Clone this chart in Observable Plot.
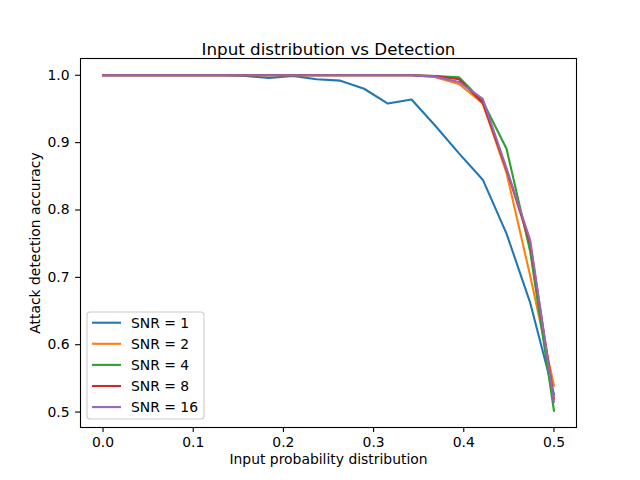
<!DOCTYPE html>
<html>
<head>
<meta charset="utf-8">
<script src="https://cdn.jsdelivr.net/npm/d3@7"></script>
<script src="https://cdn.jsdelivr.net/npm/@observablehq/plot@0.6"></script>
<style>
  body { margin: 0; background: #fff; }
  #chart svg { display: block; }
</style>
</head>
<body>
<div id="chart"></div>
<script>
// ---- data ----
const inputProb = [0, 0.0263, 0.0526, 0.0789, 0.1053, 0.1316, 0.1579, 0.1842, 0.2105, 0.2368,
                   0.2632, 0.2895, 0.3158, 0.3421, 0.3684, 0.3947, 0.4211, 0.4474, 0.4737, 0.5];
const snr1  = [1, 1, 1, 1, 1, 1, 0.999, 0.996, 0.999, 0.994, 0.992, 0.980, 0.958, 0.964, 0.925, 0.884, 0.845, 0.765, 0.662, 0.526];
const snr2  = [1, 1, 1, 1, 1, 1, 1, 1, 1, 1, 1, 1, 1, 1, 0.997, 0.987, 0.958, 0.855, 0.702, 0.539];
const snr4  = [1, 1, 1, 1, 1, 1, 1, 1, 1, 1, 1, 1, 1, 1, 0.999, 0.997, 0.961, 0.891, 0.738, 0.502];
const snr8  = [1, 1, 1, 1, 1, 1, 1, 1, 1, 1, 1, 1, 1, 1, 0.999, 0.994, 0.959, 0.860, 0.750, 0.520];
const snr16 = [1, 1, 1, 1, 1, 1, 1, 1, 1, 1, 1, 1, 1, 1, 0.998, 0.990, 0.965, 0.862, 0.755, 0.515];
const seriesNames = ["SNR = 1", "SNR = 2", "SNR = 4", "SNR = 8", "SNR = 16"];
const seriesValues = [snr1, snr2, snr4, snr8, snr16];
const colors = ["#1f77b4", "#ff7f0e", "#2ca02c", "#d62728", "#9467bd"];
const xTicks = [0, 0.1, 0.2, 0.3, 0.4, 0.5];
const yTicks = [0.5, 0.6, 0.7, 0.8, 0.9, 1.0];
const title = "Input distribution vs Detection";
const xLabel = "Input probability distribution";
const yLabel = "Attack detection accuracy";

// build tidy rows
const rows = [];
seriesNames.forEach((name, s) => {
  inputProb.forEach((x, i) => rows.push({series: name, x, y: seriesValues[s][i]}));
});

// matplotlib-style 5% margins
const allY = seriesValues.flat();
const yMin = d3.min(allY), yMax = d3.max(allY);
const yPad = (yMax - yMin) * 0.05;
const xMin = d3.min(inputProb), xMax = d3.max(inputProb);
const xPad = (xMax - xMin) * 0.05;

const mL = 80, mR = 64, mT = 58, mB = 53, W = 640, H = 480;

const chart = Plot.plot({
  width: W, height: H,
  marginLeft: mL, marginRight: mR, marginTop: mT, marginBottom: mB,
  style: { fontFamily: "DejaVu Sans", fontSize: "13.9px", color: "black", background: "white" },
  x: { domain: [xMin - xPad, xMax + xPad] },
  y: { domain: [yMin - yPad, yMax + yPad] },
  marks: [
    seriesNames.map((name, s) =>
      Plot.line(rows.filter(r => r.series === name), {
        x: "x", y: "y", stroke: colors[s], strokeWidth: 2.08, strokeLinejoin: "round", strokeLinecap: "square"
      })
    ),
    Plot.frame({ stroke: "black", strokeWidth: 1.1 }),
    Plot.axisX({ ticks: xTicks, tickFormat: d3.format(".1f"), tickSize: 4.9, tickPadding: 5, label: null, strokeWidth: 1.1, fill: "black", stroke: "black" }),
    Plot.axisY({ ticks: yTicks, tickFormat: d3.format(".1f"), tickSize: 4.9, tickPadding: 6, label: null, strokeWidth: 1.1, fill: "black", stroke: "black" }),
    Plot.text([title], { frameAnchor: "top", dy: -15, fontSize: 16.7, fill: "black", textAnchor: "middle" }),
    Plot.text([xLabel], { frameAnchor: "bottom", dy: 36, fill: "black", textAnchor: "middle" }),
    Plot.text([yLabel], { frameAnchor: "left", dx: -45, rotate: -90, fill: "black", textAnchor: "middle" })
  ]
});

// legend (matplotlib style, lower left inside the axes)
const svg = d3.select(chart);
const lg = svg.append("g").attr("font-family", "DejaVu Sans").attr("font-size", "13.9px").attr("text-anchor", "start");
const boxX = mL + 7, boxY = H - mB - 115, boxW = 117, boxH = 107;
lg.append("rect").attr("x", boxX).attr("y", boxY).attr("width", boxW).attr("height", boxH)
  .attr("rx", 3).attr("fill", "white").attr("fill-opacity", 0.8).attr("stroke", "#cccccc").attr("stroke-width", 1.1);
seriesNames.forEach((name, s) => {
  const cy = boxY + 10.7 + s * 21.1;
  lg.append("line").attr("x1", mL + 12).attr("x2", mL + 41).attr("y1", cy).attr("y2", cy)
    .attr("stroke", colors[s]).attr("stroke-width", 2.08);
  lg.append("text").attr("x", mL + 51).attr("y", cy).attr("dy", "0.35em").attr("fill", "black")
    .attr("text-anchor", "start").text(name);
});

document.getElementById("chart").appendChild(chart);
</script>
</body>
</html>
